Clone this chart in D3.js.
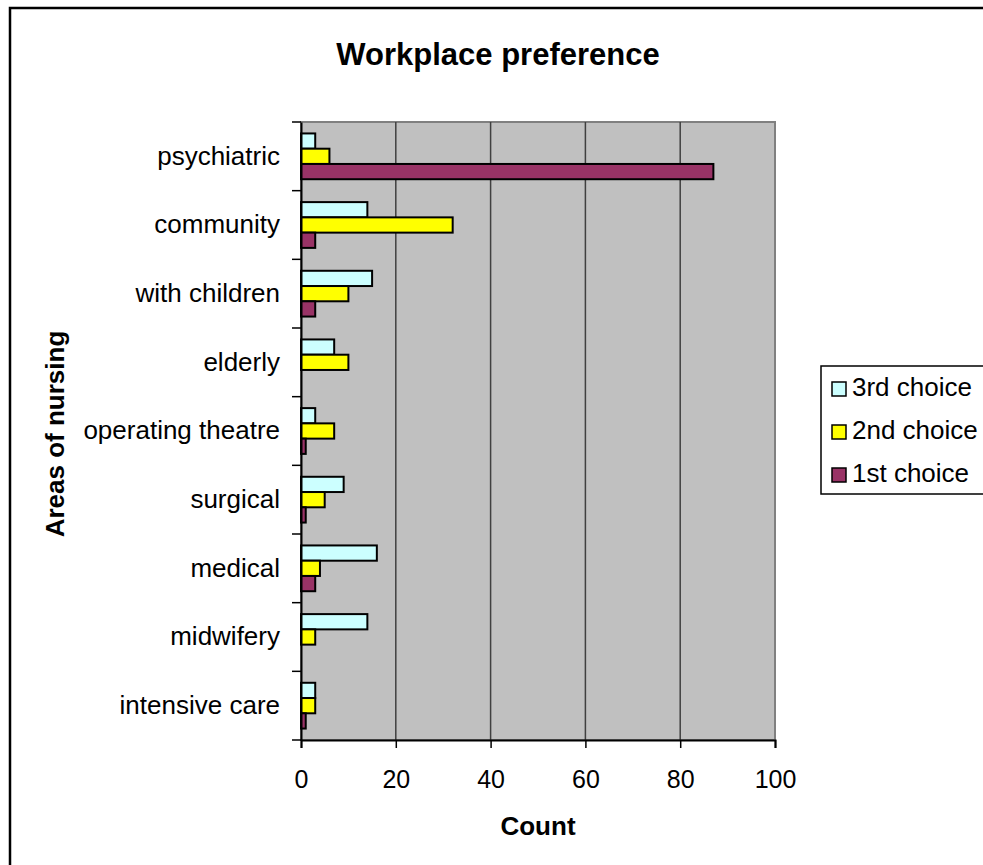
<!DOCTYPE html>
<html><head><meta charset="utf-8">
<script src="https://cdn.jsdelivr.net/npm/d3@7"></script>
<style>body{margin:0;background:#fff}svg{display:block}text{font-family:"Liberation Sans",Arial,sans-serif}</style>
</head><body><svg id="c" width="983" height="865"></svg>
<script>
const categories = ["psychiatric","community","with children","elderly","operating theatre","surgical","medical","midwifery","intensive care"];
const seriesNames = ["3rd choice","2nd choice","1st choice"];
const third = [3,14,15,7,3,9,16,14,3];
const second = [6,32,10,10,7,5,4,3,3];
const first = [87,3,3,0,1,1,3,0,1];
const seriesColors = ["#ccffff","#ffff00","#993366"];
const xTicks = [0,20,40,60,80,100];
const titleText = "Workplace preference";
const xTitle = "Count";
const yTitle = "Areas of nursing";

const series = [third, second, first];
const svg = d3.select("#c");
const L = 301, R = 775, T = 122, B = 740;

// outer chart border
svg.append("rect").attr("x",10).attr("y",8).attr("width",1010).attr("height",900)
  .attr("fill","#fff").attr("stroke","#000").attr("stroke-width",2.5);

const x = d3.scaleLinear().domain([0,100]).range([L,R]);
const y = d3.scaleBand().domain(categories).range([T,B]).paddingInner(0).paddingOuter(0);
const gapFrac = 1.5/4.5/2;
const y1 = d3.scaleBand().domain(seriesNames).range([y.bandwidth()*gapFrac, y.bandwidth()*(1-gapFrac)]);

// plot area
svg.append("rect").attr("x",L).attr("y",T).attr("width",R-L).attr("height",B-T)
  .attr("fill","#c0c0c0").attr("stroke","#808080").attr("stroke-width",2);

// gridlines
svg.append("g").selectAll("line").data(xTicks.slice(1,-1)).join("line")
  .attr("x1",d=>x(d)).attr("x2",d=>x(d)).attr("y1",T).attr("y2",B)
  .attr("stroke","#404040").attr("stroke-width",1.5);

// bars
const g = svg.append("g");
categories.forEach((c,i)=>{
  seriesNames.forEach((s,j)=>{
    const v = series[j][i];
    if (v<=0) return;
    g.append("rect").attr("x",x(0)).attr("y",y(c)+y1(s))
      .attr("width",x(v)-x(0)).attr("height",y1.bandwidth())
      .attr("fill",seriesColors[j]).attr("stroke","#000").attr("stroke-width",2);
  });
});

// x axis
const xa = svg.append("g").attr("transform",`translate(0,${B})`)
  .call(d3.axisBottom(x).tickValues(xTicks).tickSize(8).tickPadding(22).tickFormat(d3.format("d")));
xa.select(".domain").attr("stroke","#000").attr("stroke-width",2);
xa.selectAll(".tick line").attr("stroke","#000").attr("stroke-width",1.5);
xa.selectAll("text").attr("font-size",25).attr("fill","#000").attr("font-family","Liberation Sans, Arial, sans-serif");

// y axis
const ya = svg.append("g").attr("transform",`translate(${L},0)`)
  .call(d3.axisLeft(y).tickSize(0).tickPadding(21));
ya.select(".domain").attr("stroke","#000").attr("stroke-width",2);
ya.selectAll("text").attr("font-size",26).attr("fill","#000").attr("font-family","Liberation Sans, Arial, sans-serif");
// category boundary ticks
svg.append("g").selectAll("line").data(categories.concat(["_end"])).join("line")
  .attr("x1",L-9).attr("x2",L)
  .attr("y1",(d,i)=> i<categories.length ? y(d) : B)
  .attr("y2",(d,i)=> i<categories.length ? y(d) : B)
  .attr("stroke","#000").attr("stroke-width",1.5);

// titles
svg.append("text").attr("x",498).attr("y",64.5).attr("text-anchor","middle")
  .attr("font-size",31).attr("font-weight","bold").text(titleText);
svg.append("text").attr("x",(L+R)/2).attr("y",835).attr("text-anchor","middle")
  .attr("font-size",26).attr("font-weight","bold").text(xTitle);
svg.append("text").attr("transform",`translate(64,434) rotate(-90)`).attr("text-anchor","middle")
  .attr("font-size",26).attr("font-weight","bold").text(yTitle);

// legend
const lg = svg.append("g");
lg.append("rect").attr("x",821).attr("y",366).attr("width",200).attr("height",128)
  .attr("fill","#fff").attr("stroke","#000").attr("stroke-width",1.5);
seriesNames.forEach((s,j)=>{
  const by = 396 + j*43;
  lg.append("rect").attr("x",832).attr("y",by-14).attr("width",14).attr("height",14)
    .attr("fill",seriesColors[j]).attr("stroke","#000").attr("stroke-width",1.5);
  lg.append("text").attr("x",852).attr("y",by).attr("font-size",26).text(s);
});
</script></body></html>
